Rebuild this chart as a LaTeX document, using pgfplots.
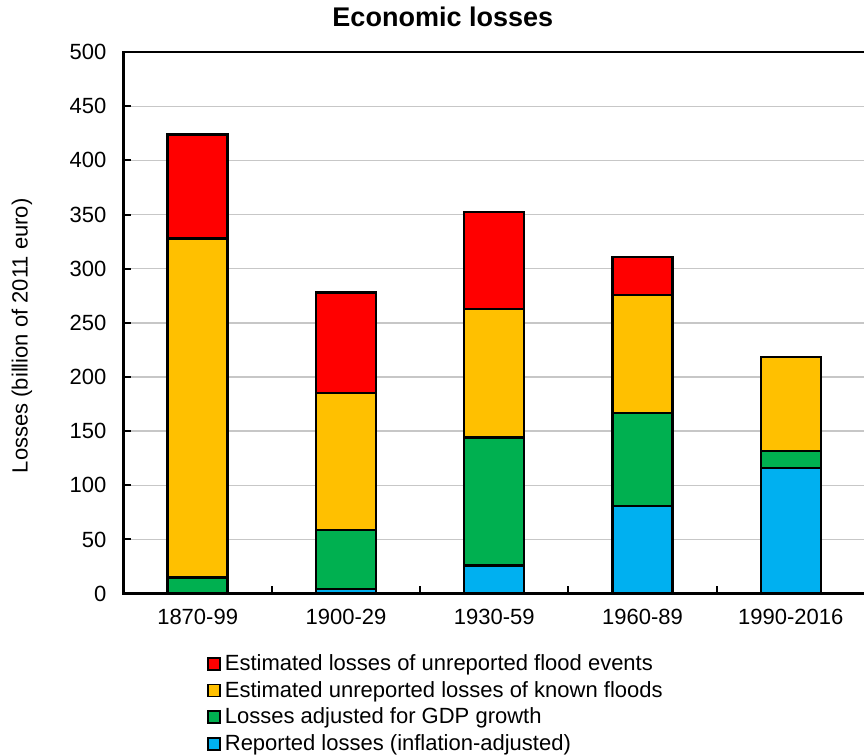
\documentclass[border=0pt]{standalone}
\usepackage{fontspec}
\setmainfont{Liberation Sans}
\usepackage{pgfplots}
\pgfplotsset{compat=1.18}
\definecolor{cred}{HTML}{FF0000}
\definecolor{cyel}{HTML}{FFC000}
\definecolor{cgrn}{HTML}{00B050}
\definecolor{cblu}{HTML}{00B0F0}
\begin{document}
\begin{tikzpicture}
\begin{axis}[
  at={(0,0)}, anchor=south west,
  scale only axis, width=370.75pt, height=270.75pt,
  ybar stacked, bar width=30pt,
  xmin=-0.5, xmax=4.5, ymin=0, ymax=500,
  xtick={0,1,2,3,4},
  xticklabels={1870-99,1900-29,1930-59,1960-89,1990-2016},
  major x tick style={draw=none},
  minor xtick={0.5,1.5,2.5,3.5},
  minor tick length=4pt,
  ytick={0,50,...,500},
  major tick length=4pt,
  xtick pos=bottom, ytick pos=left,
  ymajorgrids, grid style={black!22, line width=0.7pt},
  axis line style={line width=1.3pt},
  tick style={black, line width=1pt},
  tick label style={font=\fontsize{11}{13}\selectfont},
  /pgf/number format/assume math mode=true,
  yticklabel style={xshift=-5pt},
  xticklabel style={yshift=-4pt},
  title={Economic losses},
  title style={font=\fontsize{13.5}{16}\selectfont\bfseries, at={(axis description cs:0.4306,1)}, anchor=base, yshift=6.8pt},
  ylabel={Losses (billion of 2011 euro)},
  every axis y label/.style={at={(axis description cs:-0.1369,0.476)}, rotate=90, anchor=center, font=\fontsize{11}{13}\selectfont},
  legend style={at={(axis description cs:0.1126,-0.1042)}, anchor=north west, draw=none, fill=none, font=\fontsize{11}{13}\selectfont, inner sep=0pt, row sep=-0.15pt, cells={anchor=west}},
  legend cell align=left,
  reverse legend,
  legend image code/.code={\draw[#1,draw=black,line width=0.75pt] (0pt,-3pt) rectangle (6pt,3pt);},
]
\addplot[fill=cblu, draw=black, line width=1.2pt] coordinates {(0,0) (1,4) (2,26) (3,81) (4,116)};
\addplot[fill=cgrn, draw=black, line width=1.2pt] coordinates {(0,15) (1,55) (2,118) (3,86) (4,15.5)};
\addplot[fill=cyel, draw=black, line width=1.2pt] coordinates {(0,313) (1,126.5) (2,119) (3,108.5) (4,87)};
\addplot[fill=cred, draw=black, line width=1.2pt] coordinates {(0,96) (1,92.5) (2,89.5) (3,35.5) (4,0)};
\legend{Reported losses (inflation-adjusted),Losses adjusted for GDP growth,Estimated unreported losses of known floods,Estimated losses of unreported flood events}
\end{axis}
\pgfresetboundingbox
\path[use as bounding box] (-61.75pt,-81.2pt) rectangle (370.25pt,296.8pt);
\end{tikzpicture}
\end{document}
